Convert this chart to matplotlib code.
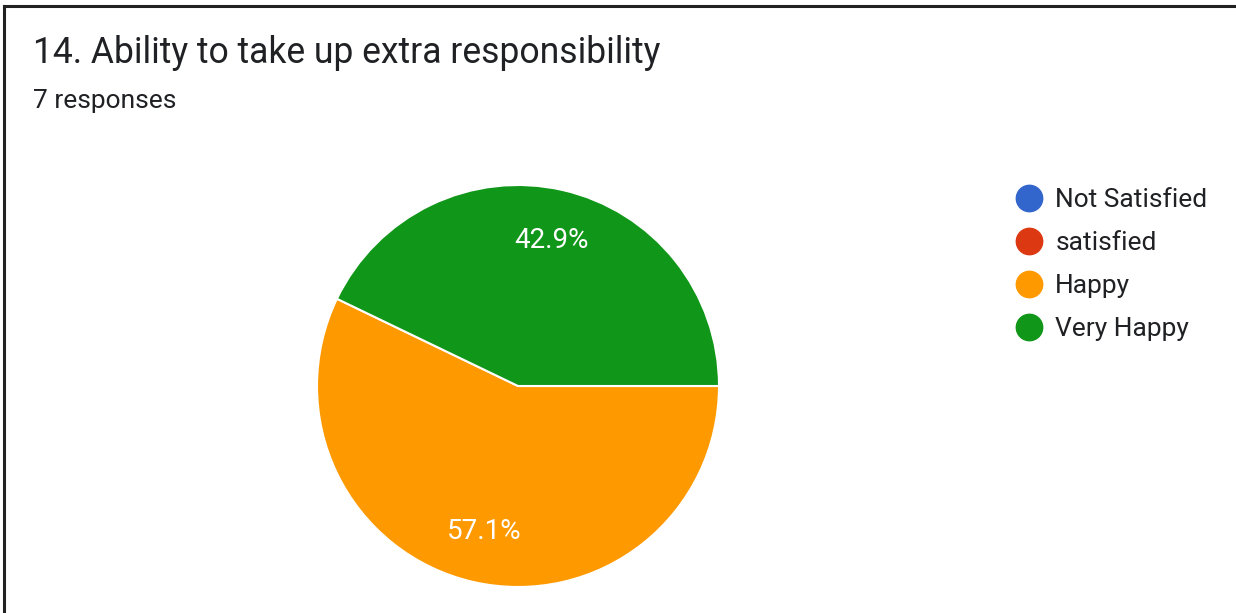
import matplotlib
matplotlib.use("Agg")
import matplotlib.pyplot as plt
from matplotlib.lines import Line2D

plt.rcParams['font.family'] = ['Roboto', 'DejaVu Sans']

title = "14. Ability to take up extra responsibility"
subtitle = "7 responses"
categories = ["Not Satisfied", "satisfied", "Happy", "Very Happy"]
counts = [0, 0, 4, 3]
colors = ["#3366cc", "#dc3912", "#ff9900", "#109618"]

W, H = 1236, 613
fig = plt.figure(figsize=(W / 100, H / 100), dpi=100)
fig.patch.set_facecolor("white")

# border (left and top)
fig.add_artist(Line2D([4 / W, 4 / W], [0, 1 - 6 / H], color="#222222", lw=2.2))
fig.add_artist(Line2D([4 / W, 1], [1 - 6 / H, 1 - 6 / H], color="#222222", lw=2.2))

fig.text(33 / W, 1 - 53 / H, title, fontsize=25.6, color="#202124", va="center", ha="left")
fig.text(33 / W, 1 - 101 / H, subtitle, fontsize=19, color="#202124", va="center", ha="left")

cx, cy, r = 518, 386, 201
ax = fig.add_axes([(cx - r) / W, (H - cy - r) / H, 2 * r / W, 2 * r / H])

def fmt(p):
    return "" if p < 0.05 else f"{p:.1f}%"

wedges, texts, autotexts = ax.pie(
    counts, colors=colors, startangle=0, counterclock=False,
    autopct=fmt, pctdistance=0.745,
    wedgeprops=dict(edgecolor="white", linewidth=1.5),
    textprops=dict(color="white", fontsize=20),
)
ax.set_xlim(-1.0, 1.0)
ax.set_ylim(-1.0, 1.0)
ax.set_aspect("equal")
ax.axis("off")

handles = [Line2D([], [], marker="o", linestyle="none", markersize=19,
                  markerfacecolor=c, markeredgecolor=c) for c in colors]
fig.legend(handles, categories, loc="upper left",
           bbox_to_anchor=(1003 / W, 1 - 175 / H), frameon=False,
           fontsize=19, handletextpad=0.48, labelspacing=0.72,
           borderpad=0, handlelength=1.0, labelcolor="#202124")

fig.savefig("out.png", dpi=100, facecolor="white")
